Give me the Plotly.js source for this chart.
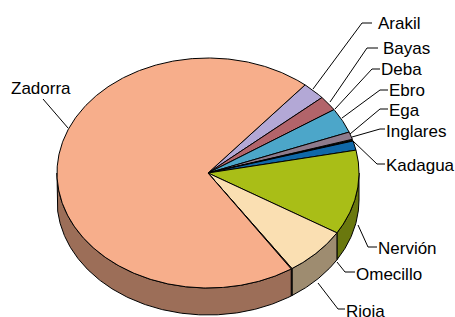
<!DOCTYPE html>
<html><head><meta charset="utf-8">
<script src="https://cdn.plot.ly/plotly-3.0.1.min.js"></script>
<style>html,body{margin:0;padding:0;background:#fff;}#chart{width:455px;height:317px;}</style>
</head><body><div id="chart"></div>
<script>
// ---- data (percent share) ----
const categories = ['Arakil','Bayas','Deba','Ebro','Ega','Inglares','Kadagua','Nervión','Omecillo','Rioja','Zadorra'];
const values = [2.5, 2.1, 3.5, 1.05, 0.15, 0.1, 1.3, 11.9, 6.9, 0.1, 70.4];
const colors = ['#B3A8D6','#B2646A','#4CA6C9','#8F7B8C','#B89A2A','#E0B870','#1068A8','#A9BE17','#FADFB2','#E89A6A','#F7AE8B'];

// ---- layout / geometry (pixel space of the plot) ----
const W = 455, H = 317;
const geo = {cx: 208, cy: 173, rx: 151, ry: 115, depth: 27, startDeg: 40, shade: 0.63};
const labelLayout = {
  'Arakil':   {tx: 377, ty: 23,  leader: [[313,89],[362,23],[372,23]]},
  'Bayas':    {tx: 382, ty: 48.5,leader: [[330,102],[367,48],[378,48]]},
  'Deba':     {tx: 380, ty: 69.5,leader: [[335,109],[372,69],[380,69]]},
  'Ebro':     {tx: 388, ty: 90.5,leader: [[342,118],[380,90],[388,90]]},
  'Ega':      {tx: 388, ty: 110.5,leader: [[350,134],[380,109],[388,109]]},
  'Inglares': {tx: 385, ty: 131, leader: [[352,137],[380,129],[385,129]]},
  'Kadagua':  {tx: 385, ty: 165, leader: [[353,141],[377,164],[385,164]]},
  'Nervión':  {tx: 377, ty: 248, leader: [[358,225],[368,247],[377,247]]},
  'Omecillo': {tx: 355, ty: 274.5,leader: [[337,262],[345,272],[355,272]]},
  'Rioja':    {tx: 345, ty: 311.5,leader: [[318,283],[338,309],[345,309]]},
  'Zadorra':  {tx: 10,  ty: 88,  leader: [[68,128],[43,99]]}
};

function shadeColor(hex, f){
  const n = parseInt(hex.slice(1),16);
  const r = Math.round(((n>>16)&255)*f), g = Math.round(((n>>8)&255)*f), b = Math.round((n&255)*f);
  return 'rgb('+r+','+g+','+b+')';
}
function pt(deg, drop){
  const t = deg*Math.PI/180;
  return [geo.cx + geo.rx*Math.sin(t), geo.cy - geo.ry*Math.cos(t) + (drop||0)];
}
function arc(a0, a1, drop){
  const pts = [];
  const n = Math.max(2, Math.ceil(Math.abs(a1-a0)/0.5));
  for(let i=0;i<=n;i++){ pts.push(pt(a0 + (a1-a0)*i/n, drop)); }
  return pts;
}

const total = values.reduce((a,b)=>a+b,0);
const slices = [];
let acc = geo.startDeg;
values.forEach((v,i)=>{
  const a0 = acc, a1 = acc + v/total*360;
  slices.push({name: categories[i], a0, a1, color: colors[i]});
  acc = a1;
});

const sideTraces = [], topTraces = [];
slices.forEach(s=>{
  // visible side: front half (90..270 deg clockwise from top), possibly wrapped
  [[90,270],[450,630]].forEach(([lo,hi])=>{
    const s0 = Math.max(s.a0, lo), s1 = Math.min(s.a1, hi);
    if(s1 > s0){
      const top = arc(s0, s1, 0);
      const bot = arc(s1, s0, geo.depth);
      const poly = top.concat(bot); poly.push(top[0]);
      sideTraces.push({type:'scatter', mode:'lines', x: poly.map(p=>p[0]), y: poly.map(p=>p[1]),
        fill:'toself', fillcolor: shadeColor(s.color, geo.shade), line:{color:'#000', width:1},
        hoverinfo:'skip', showlegend:false});
    }
  });
  const a = arc(s.a0, s.a1, 0);
  const poly = [[geo.cx, geo.cy]].concat(a); poly.push([geo.cx, geo.cy]);
  topTraces.push({type:'scatter', mode:'lines', x: poly.map(p=>p[0]), y: poly.map(p=>p[1]),
    fill:'toself', fillcolor: s.color, line:{color:'#000', width:1},
    name: s.name, hoverinfo:'name', showlegend:false});
});

const shapes = [], annotations = [];
categories.forEach(c=>{
  const L = labelLayout[c];
  shapes.push({type:'path', xref:'x', yref:'y',
    path: 'M' + L.leader.map(p=>p[0]+','+p[1]).join(' L'),
    line:{color:'#000', width:1}});
  annotations.push({text: c, x: L.tx, y: L.ty, xref:'x', yref:'y', xanchor:'left', yanchor:'middle',
    showarrow:false, borderpad:0, font:{family:'Liberation Sans, Arial, sans-serif', size:17, color:'#000'}});
});

const layout = {
  width: W, height: H, margin:{l:0,r:0,t:0,b:0,pad:0},
  paper_bgcolor:'#fff', plot_bgcolor:'#fff',
  xaxis:{range:[0,W], visible:false, fixedrange:true},
  yaxis:{range:[H,0], visible:false, fixedrange:true},
  shapes, annotations, showlegend:false
};
Plotly.newPlot('chart', sideTraces.concat(topTraces), layout, {staticPlot:true, displayModeBar:false});
</script></body></html>
